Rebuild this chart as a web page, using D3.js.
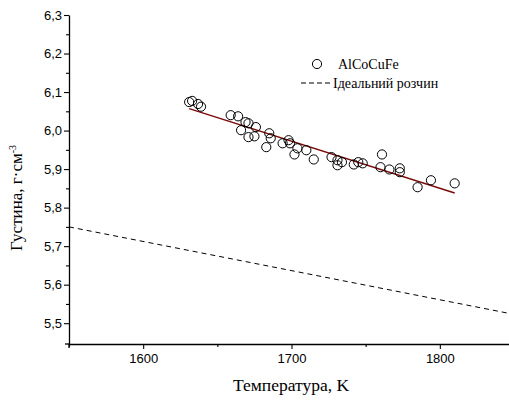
<!DOCTYPE html>
<html>
<head>
<meta charset="utf-8">
<script src="https://cdn.jsdelivr.net/npm/d3@7/dist/d3.min.js"></script>
<style>
html,body{margin:0;padding:0;background:#fff;}
svg{display:block;}
</style>
</head>
<body>
<svg id="chart" width="509" height="403"></svg>
<script>
const temps = [1631,1633,1637,1639,1659,1664,1669,1671,1676,1666,1671,1675,1685,1686,1683,1694,1698,1699,1702,1704,1710,1715,1727,1731,1731,1734,1742,1745,1748,1761,1760,1766,1773,1773,1785,1794,1810];
const densities = [6.074,6.077,6.069,6.062,6.040,6.037,6.022,6.019,6.009,6.001,5.983,5.985,5.993,5.980,5.957,5.967,5.975,5.967,5.938,5.954,5.949,5.925,5.931,5.923,5.910,5.918,5.912,5.918,5.915,5.938,5.905,5.899,5.902,5.892,5.853,5.871,5.863];
const fitT = [1631,1810];
const fitRho = [6.057,5.838];
const idealT = [1550,1850];
const idealRho = [5.750,5.523];
const xTicks = [1600,1700,1800];
const xMinorTicks = [1550,1650,1750,1850];
const yTicks = [5.5,5.6,5.7,5.8,5.9,6.0,6.1,6.2,6.3];
const yMinorTicks = [5.55,5.65,5.75,5.85,5.95,6.05,6.15,6.25];
const seriesName = "AlCoCuFe";
const idealName = "Ідеальний розчин";
const xTitle = "Температура, K";

const svg = d3.select("#chart");
const x = d3.scaleLinear().domain([1550,1850]).range([69,514]);
const y = d3.scaleLinear().domain([5.446,6.3]).range([344,15]);
const fmt = v => d3.format(".1f")(v).replace(".", ",");

// axes
const yAxis = svg.append("g").attr("transform","translate(69,0)")
  .call(d3.axisLeft(y).tickValues(yTicks).tickFormat(fmt).tickSize(5).tickSizeOuter(0));
svg.append("g").attr("transform","translate(69,0)")
  .call(d3.axisLeft(y).tickValues(yMinorTicks).tickFormat("").tickSize(3).tickSizeOuter(0))
  .select(".domain").remove();
const xAxis = svg.append("g").attr("transform","translate(0,344)")
  .call(d3.axisBottom(x).tickValues(xTicks).tickFormat(d3.format("d")).tickSize(5).tickSizeOuter(0));
svg.append("g").attr("transform","translate(0,344)")
  .call(d3.axisBottom(x).tickValues(xMinorTicks).tickFormat("").tickSize(3).tickSizeOuter(0))
  .select(".domain").remove();

svg.selectAll(".domain").attr("stroke","#000").attr("stroke-width",1.3);
svg.selectAll(".tick line").attr("stroke","#000").attr("stroke-width",1.1);
yAxis.selectAll("text").attr("font-family","Liberation Sans, Arial, sans-serif").attr("font-size",13).attr("fill","#000").attr("x",-7);
xAxis.selectAll("text").attr("font-family","Liberation Sans, Arial, sans-serif").attr("font-size",13).attr("fill","#000").attr("y",10);
svg.append("line").attr("x1",65).attr("x2",69).attr("y1",344).attr("y2",344).attr("stroke","#000").attr("stroke-width",1.3);
svg.append("line").attr("x1",69).attr("x2",69).attr("y1",344).attr("y2",348).attr("stroke","#000").attr("stroke-width",1.3);

// ideal line
svg.append("path")
  .datum(idealT.map((t,i)=>[t,idealRho[i]]))
  .attr("d", d3.line().x(d=>x(d[0])).y(d=>y(d[1])))
  .attr("fill","none").attr("stroke","#000").attr("stroke-width",1).attr("stroke-dasharray","5,4");

// fit line
svg.append("path")
  .datum(fitT.map((t,i)=>[t,fitRho[i]]))
  .attr("d", d3.line().x(d=>x(d[0])).y(d=>y(d[1])))
  .attr("fill","none").attr("stroke","#7a0a0a").attr("stroke-width",1.4);

// points
svg.append("g").selectAll("circle")
  .data(temps.map((t,i)=>[t,densities[i]]))
  .join("circle")
  .attr("cx",d=>x(d[0])).attr("cy",d=>y(d[1])).attr("r",4.6)
  .attr("fill","none").attr("stroke","#000").attr("stroke-width",1);

// legend
const lg = svg.append("g");
lg.append("circle").attr("cx",317).attr("cy",64).attr("r",4.6).attr("fill","none").attr("stroke","#000").attr("stroke-width",1);
lg.append("text").attr("x",338).attr("y",68.5).text(seriesName)
  .attr("font-family","Liberation Serif, Times New Roman, serif").attr("font-size",14).attr("fill","#000");
lg.append("line").attr("x1",301).attr("x2",331).attr("y1",83).attr("y2",83)
  .attr("stroke","#000").attr("stroke-width",1).attr("stroke-dasharray","5,3");
lg.append("text").attr("x",333).attr("y",87.5).text(idealName)
  .attr("font-family","Liberation Serif, Times New Roman, serif").attr("font-size",14).attr("fill","#000");

// axis titles
svg.append("text").attr("x",291).attr("y",391).attr("text-anchor","middle").text(xTitle)
  .attr("font-family","Liberation Serif, Times New Roman, serif").attr("font-size",17.5).attr("fill","#000");
const yt = svg.append("text").attr("transform","translate(22,198) rotate(-90)").attr("text-anchor","middle")
  .attr("font-family","Liberation Serif, Times New Roman, serif").attr("font-size",17).attr("fill","#000");
yt.append("tspan").text("Густина, г·см");
yt.append("tspan").attr("dy",-6).attr("font-size",10).text("-3");
</script>
</body>
</html>
